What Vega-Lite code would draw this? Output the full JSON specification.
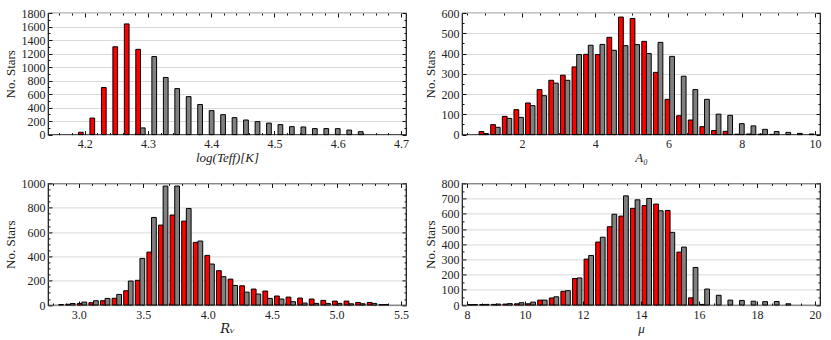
{
"$schema":"https://vega.github.io/schema/vega-lite/v6.json",
"padding":{"left":3,"top":6,"right":2,"bottom":2},
"config":{
 "font":"Liberation Serif",
 "view":{"stroke":"#111","strokeWidth":1.2},
 "axis":{"labelFont":"Liberation Serif","labelFontSize":12,"labelColor":"#222","titleFont":"Liberation Serif","titleFontSize":13,"titleFontWeight":"normal","titleColor":"#222","domain":false,"grid":false,"tickColor":"#111","tickWidth":1,"gridColor":"#d9d9d9","gridWidth":1,"labelFlush":false,"labelOverlap":false}
},
"datasets":{
 "teff":[
  {"s":"red","x":4.1940,"n":35},{"s":"red","x":4.2121,"n":245},{"s":"red","x":4.2303,"n":697},{"s":"red","x":4.2484,"n":1300},{"s":"red","x":4.2665,"n":1638},{"s":"red","x":4.2846,"n":1262},
  {"s":"gray","x":4.2919,"n":99},{"s":"gray","x":4.3100,"n":1155},{"s":"gray","x":4.3282,"n":846},{"s":"gray","x":4.3463,"n":681},{"s":"gray","x":4.3644,"n":562},{"s":"gray","x":4.3825,"n":446},{"s":"gray","x":4.4007,"n":355},{"s":"gray","x":4.4188,"n":295},{"s":"gray","x":4.4369,"n":251},{"s":"gray","x":4.4550,"n":216},{"s":"gray","x":4.4732,"n":192},{"s":"gray","x":4.4913,"n":170},{"s":"gray","x":4.5094,"n":148},{"s":"gray","x":4.5275,"n":118},{"s":"gray","x":4.5457,"n":113},{"s":"gray","x":4.5638,"n":89},{"s":"gray","x":4.5819,"n":89},{"s":"gray","x":4.6000,"n":88},{"s":"gray","x":4.6182,"n":67},{"s":"gray","x":4.6363,"n":43}
 ],
 "a0":[
  {"s":"red","x":0.895,"n":15},{"s":"red","x":1.212,"n":49},{"s":"red","x":1.530,"n":90},{"s":"red","x":1.847,"n":123},{"s":"red","x":2.164,"n":156},{"s":"red","x":2.481,"n":222},{"s":"red","x":2.799,"n":268},{"s":"red","x":3.116,"n":293},{"s":"red","x":3.433,"n":334},{"s":"red","x":3.750,"n":396},{"s":"red","x":4.068,"n":395},{"s":"red","x":4.385,"n":480},{"s":"red","x":4.702,"n":580},{"s":"red","x":5.019,"n":573},{"s":"red","x":5.337,"n":460},{"s":"red","x":5.654,"n":307},{"s":"red","x":5.971,"n":174},{"s":"red","x":6.288,"n":93},{"s":"red","x":6.606,"n":72},{"s":"red","x":6.923,"n":39},{"s":"red","x":7.240,"n":20},{"s":"red","x":7.557,"n":16},{"s":"red","x":7.875,"n":2},{"s":"red","x":8.192,"n":3},{"s":"red","x":8.509,"n":2},{"s":"red","x":8.826,"n":1},
  {"s":"gray","x":1.022,"n":5},{"s":"gray","x":1.339,"n":36},{"s":"gray","x":1.657,"n":80},{"s":"gray","x":1.974,"n":85},{"s":"gray","x":2.291,"n":143},{"s":"gray","x":2.608,"n":192},{"s":"gray","x":2.926,"n":254},{"s":"gray","x":3.243,"n":268},{"s":"gray","x":3.560,"n":395},{"s":"gray","x":3.877,"n":441},{"s":"gray","x":4.195,"n":445},{"s":"gray","x":4.512,"n":416},{"s":"gray","x":4.829,"n":439},{"s":"gray","x":5.146,"n":444},{"s":"gray","x":5.464,"n":400},{"s":"gray","x":5.781,"n":455},{"s":"gray","x":6.098,"n":386},{"s":"gray","x":6.415,"n":288},{"s":"gray","x":6.733,"n":222},{"s":"gray","x":7.050,"n":174},{"s":"gray","x":7.367,"n":101},{"s":"gray","x":7.684,"n":95},{"s":"gray","x":8.002,"n":54},{"s":"gray","x":8.319,"n":43},{"s":"gray","x":8.636,"n":26},{"s":"gray","x":8.953,"n":15},{"s":"gray","x":9.270,"n":11},{"s":"gray","x":9.588,"n":6},{"s":"gray","x":9.905,"n":3}
 ],
 "rv":[
  {"s":"red","x":2.917,"n":6},{"s":"red","x":3.007,"n":13},{"s":"red","x":3.097,"n":19},{"s":"red","x":3.187,"n":35},{"s":"red","x":3.277,"n":55},{"s":"red","x":3.367,"n":117},{"s":"red","x":3.457,"n":203},{"s":"red","x":3.547,"n":435},{"s":"red","x":3.637,"n":657},{"s":"red","x":3.727,"n":740},{"s":"red","x":3.817,"n":690},{"s":"red","x":3.907,"n":515},{"s":"red","x":3.997,"n":408},{"s":"red","x":4.087,"n":282},{"s":"red","x":4.177,"n":213},{"s":"red","x":4.267,"n":158},{"s":"red","x":4.357,"n":131},{"s":"red","x":4.447,"n":115},{"s":"red","x":4.537,"n":74},{"s":"red","x":4.627,"n":65},{"s":"red","x":4.717,"n":57},{"s":"red","x":4.807,"n":49},{"s":"red","x":4.897,"n":38},{"s":"red","x":4.987,"n":32},{"s":"red","x":5.077,"n":32},{"s":"red","x":5.167,"n":21},{"s":"red","x":5.257,"n":21},{"s":"red","x":5.347,"n":3},
  {"s":"gray","x":2.863,"n":4},{"s":"gray","x":2.953,"n":12},{"s":"gray","x":3.043,"n":24},{"s":"gray","x":3.133,"n":35},{"s":"gray","x":3.223,"n":54},{"s":"gray","x":3.313,"n":87},{"s":"gray","x":3.403,"n":197},{"s":"gray","x":3.493,"n":383},{"s":"gray","x":3.583,"n":720},{"s":"gray","x":3.673,"n":978},{"s":"gray","x":3.763,"n":978},{"s":"gray","x":3.853,"n":794},{"s":"gray","x":3.943,"n":526},{"s":"gray","x":4.033,"n":337},{"s":"gray","x":4.123,"n":233},{"s":"gray","x":4.213,"n":161},{"s":"gray","x":4.303,"n":106},{"s":"gray","x":4.393,"n":90},{"s":"gray","x":4.483,"n":54},{"s":"gray","x":4.573,"n":49},{"s":"gray","x":4.663,"n":27},{"s":"gray","x":4.753,"n":16},{"s":"gray","x":4.843,"n":13},{"s":"gray","x":4.933,"n":13},{"s":"gray","x":5.023,"n":13},{"s":"gray","x":5.113,"n":10},{"s":"gray","x":5.203,"n":10},{"s":"gray","x":5.293,"n":13},{"s":"gray","x":5.383,"n":4}
 ],
 "mu":[
  {"s":"red","x":8.12,"n":2},{"s":"red","x":8.52,"n":3},{"s":"red","x":8.92,"n":4},{"s":"red","x":9.32,"n":6},{"s":"red","x":9.72,"n":8},{"s":"red","x":10.12,"n":8},{"s":"red","x":10.52,"n":32},{"s":"red","x":10.92,"n":46},{"s":"red","x":11.32,"n":90},{"s":"red","x":11.72,"n":174},{"s":"red","x":12.12,"n":302},{"s":"red","x":12.52,"n":414},{"s":"red","x":12.92,"n":515},{"s":"red","x":13.32,"n":585},{"s":"red","x":13.72,"n":636},{"s":"red","x":14.12,"n":654},{"s":"red","x":14.52,"n":664},{"s":"red","x":14.92,"n":622},{"s":"red","x":15.32,"n":348},{"s":"red","x":15.72,"n":47},{"s":"red","x":16.12,"n":4},
  {"s":"gray","x":8.28,"n":3},{"s":"gray","x":8.68,"n":4},{"s":"gray","x":9.08,"n":6},{"s":"gray","x":9.48,"n":9},{"s":"gray","x":9.88,"n":15},{"s":"gray","x":10.28,"n":19},{"s":"gray","x":10.68,"n":32},{"s":"gray","x":11.08,"n":54},{"s":"gray","x":11.48,"n":94},{"s":"gray","x":11.88,"n":178},{"s":"gray","x":12.28,"n":326},{"s":"gray","x":12.68,"n":446},{"s":"gray","x":13.08,"n":597},{"s":"gray","x":13.48,"n":718},{"s":"gray","x":13.88,"n":692},{"s":"gray","x":14.28,"n":701},{"s":"gray","x":14.68,"n":620},{"s":"gray","x":15.08,"n":478},{"s":"gray","x":15.48,"n":381},{"s":"gray","x":15.88,"n":247},{"s":"gray","x":16.28,"n":105},{"s":"gray","x":16.68,"n":64},{"s":"gray","x":17.08,"n":32},{"s":"gray","x":17.48,"n":30},{"s":"gray","x":17.88,"n":25},{"s":"gray","x":18.28,"n":22},{"s":"gray","x":18.68,"n":23},{"s":"gray","x":19.08,"n":8}
 ]
},
"columns":2,
"spacing":{"row":48.4,"column":56},
"bounds":"flush",
"concat":[
 {"width":358,"height":121.6,"data":{"name":"teff"},
  "layer":[
   {"mark":{"type":"bar","orient":"vertical","size":4.72,"stroke":"#000","strokeWidth":1},
    "encoding":{
     "x":{"field":"x","type":"quantitative","scale":{"domain":[4.15,4.7],"nice":false,"zero":false},"axis":{"orient":"bottom","values":[4.2,4.3,4.4,4.5,4.6,4.7],"format":".1f","ticks":false,"labelPadding":4,"title":"log(Teff)[K]","titleFontStyle":"italic","titlePadding":2}},
     "y":{"field":"n","type":"quantitative","stack":null,"scale":{"domain":[0,1800],"nice":false},"axis":{"orient":"left","values":[0,200,400,600,800,1000,1200,1400,1600,1800],"format":"d","ticks":false,"grid":true,"labelPadding":3,"title":"No. Stars","titlePadding":4}},
     "color":{"field":"s","type":"nominal","scale":{"domain":["red","gray"],"range":["#ff0000","#808080"]},"legend":null}}},
   {"mark":{"type":"point","opacity":0},"encoding":{
     "x":{"field":"x","type":"quantitative","axis":{"orient":"bottom","values":[4.2,4.3,4.4,4.5,4.6,4.7],"labels":false,"tickSize":-4,"title":null}},
     "y":{"field":"n","type":"quantitative","axis":{"orient":"left","values":[0,200,400,600,800,1000,1200,1400,1600,1800],"labels":false,"tickSize":-4,"title":null}}}},
   {"mark":{"type":"point","opacity":0},"encoding":{
     "x":{"field":"x","type":"quantitative","axis":{"orient":"top","values":[4.2,4.3,4.4,4.5,4.6,4.7],"labels":false,"tickSize":-4,"title":null}},
     "y":{"field":"n","type":"quantitative","axis":{"orient":"right","values":[0,200,400,600,800,1000,1200,1400,1600,1800],"labels":false,"tickSize":-4,"title":null}}}},
   {"mark":{"type":"point","opacity":0},"encoding":{
     "x":{"field":"x","type":"quantitative","axis":{"orient":"bottom","values":[4.16,4.18,4.22,4.24,4.26,4.28,4.32,4.34,4.36,4.38,4.42,4.44,4.46,4.48,4.52,4.54,4.56,4.58,4.62,4.64,4.66,4.68],"labels":false,"tickSize":-2,"title":null}},
     "y":{"field":"n","type":"quantitative","axis":{"orient":"left","values":[100,300,500,700,900,1100,1300,1500,1700],"labels":false,"tickSize":-2,"title":null}}}},
   {"mark":{"type":"point","opacity":0},"encoding":{
     "x":{"field":"x","type":"quantitative","axis":{"orient":"top","values":[4.16,4.18,4.22,4.24,4.26,4.28,4.32,4.34,4.36,4.38,4.42,4.44,4.46,4.48,4.52,4.54,4.56,4.58,4.62,4.64,4.66,4.68],"labels":false,"tickSize":-2,"title":null}},
     "y":{"field":"n","type":"quantitative","axis":{"orient":"right","values":[100,300,500,700,900,1100,1300,1500,1700],"labels":false,"tickSize":-2,"title":null}}}}
  ],
  "resolve":{"axis":{"x":"independent","y":"independent"}}},
 {"width":358,"height":121.6,"data":{"name":"a0"},
  "layer":[
   {"mark":{"type":"bar","orient":"vertical","size":4.76,"stroke":"#000","strokeWidth":1},
    "encoding":{
     "x":{"field":"x","type":"quantitative","scale":{"domain":[0.5,10],"nice":false,"zero":false},"axis":{"orient":"bottom","values":[2,4,6,8,10],"ticks":false,"labelPadding":4,"title":"A₀","titleFontStyle":"italic","titlePadding":2}},
     "y":{"field":"n","type":"quantitative","stack":null,"scale":{"domain":[0,600],"nice":false},"axis":{"orient":"left","values":[0,100,200,300,400,500,600],"format":"d","ticks":false,"grid":true,"labelPadding":3,"title":"No. Stars","titlePadding":4}},
     "color":{"field":"s","type":"nominal","scale":{"domain":["red","gray"],"range":["#ff0000","#808080"]},"legend":null}}},
   {"mark":{"type":"point","opacity":0},"encoding":{
     "x":{"field":"x","type":"quantitative","axis":{"orient":"bottom","values":[2,4,6,8,10],"labels":false,"tickSize":-4,"title":null}},
     "y":{"field":"n","type":"quantitative","axis":{"orient":"left","values":[0,100,200,300,400,500,600],"labels":false,"tickSize":-4,"title":null}}}},
   {"mark":{"type":"point","opacity":0},"encoding":{
     "x":{"field":"x","type":"quantitative","axis":{"orient":"top","values":[2,4,6,8,10],"labels":false,"tickSize":-4,"title":null}},
     "y":{"field":"n","type":"quantitative","axis":{"orient":"right","values":[0,100,200,300,400,500,600],"labels":false,"tickSize":-4,"title":null}}}},
   {"mark":{"type":"point","opacity":0},"encoding":{
     "x":{"field":"x","type":"quantitative","axis":{"orient":"bottom","values":[0.5,1,1.5,2.5,3,3.5,4.5,5,5.5,6.5,7,7.5,8.5,9,9.5],"labels":false,"tickSize":-2,"title":null}},
     "y":{"field":"n","type":"quantitative","axis":{"orient":"left","values":[50,150,250,350,450,550],"labels":false,"tickSize":-2,"title":null}}}},
   {"mark":{"type":"point","opacity":0},"encoding":{
     "x":{"field":"x","type":"quantitative","axis":{"orient":"top","values":[0.5,1,1.5,2.5,3,3.5,4.5,5,5.5,6.5,7,7.5,8.5,9,9.5],"labels":false,"tickSize":-2,"title":null}},
     "y":{"field":"n","type":"quantitative","axis":{"orient":"right","values":[50,150,250,350,450,550],"labels":false,"tickSize":-2,"title":null}}}}
  ],
  "resolve":{"axis":{"x":"independent","y":"independent"}}},
 {"width":358,"height":121.6,"data":{"name":"rv"},
  "layer":[
   {"mark":{"type":"bar","orient":"vertical","size":4.77,"stroke":"#000","strokeWidth":1},
    "encoding":{
     "x":{"field":"x","type":"quantitative","scale":{"domain":[2.8,5.5],"nice":false,"zero":false},"axis":{"orient":"bottom","values":[3,3.5,4,4.5,5,5.5],"format":".1f","ticks":false,"labelPadding":4,"title":"Rᵥ","titleFont":"DejaVu Serif","titleFontSize":13,"titleFontStyle":"italic","titlePadding":2}},
     "y":{"field":"n","type":"quantitative","stack":null,"scale":{"domain":[0,1000],"nice":false},"axis":{"orient":"left","values":[0,200,400,600,800,1000],"format":"d","ticks":false,"grid":true,"labelPadding":3,"title":"No. Stars","titlePadding":4}},
     "color":{"field":"s","type":"nominal","scale":{"domain":["red","gray"],"range":["#ff0000","#808080"]},"legend":null}}},
   {"mark":{"type":"point","opacity":0},"encoding":{
     "x":{"field":"x","type":"quantitative","axis":{"orient":"bottom","values":[3,3.5,4,4.5,5,5.5],"labels":false,"tickSize":-4,"title":null}},
     "y":{"field":"n","type":"quantitative","axis":{"orient":"left","values":[0,200,400,600,800,1000],"labels":false,"tickSize":-4,"title":null}}}},
   {"mark":{"type":"point","opacity":0},"encoding":{
     "x":{"field":"x","type":"quantitative","axis":{"orient":"top","values":[3,3.5,4,4.5,5,5.5],"labels":false,"tickSize":-4,"title":null}},
     "y":{"field":"n","type":"quantitative","axis":{"orient":"right","values":[0,200,400,600,800,1000],"labels":false,"tickSize":-4,"title":null}}}},
   {"mark":{"type":"point","opacity":0},"encoding":{
     "x":{"field":"x","type":"quantitative","axis":{"orient":"bottom","values":[2.8,2.9,3.1,3.2,3.3,3.4,3.6,3.7,3.8,3.9,4.1,4.2,4.3,4.4,4.6,4.7,4.8,4.9,5.1,5.2,5.3,5.4],"labels":false,"tickSize":-2,"title":null}},
     "y":{"field":"n","type":"quantitative","axis":{"orient":"left","values":[50,100,150,250,300,350,450,500,550,650,700,750,850,900,950],"labels":false,"tickSize":-2,"title":null}}}},
   {"mark":{"type":"point","opacity":0},"encoding":{
     "x":{"field":"x","type":"quantitative","axis":{"orient":"top","values":[2.8,2.9,3.1,3.2,3.3,3.4,3.6,3.7,3.8,3.9,4.1,4.2,4.3,4.4,4.6,4.7,4.8,4.9,5.1,5.2,5.3,5.4],"labels":false,"tickSize":-2,"title":null}},
     "y":{"field":"n","type":"quantitative","axis":{"orient":"right","values":[50,100,150,250,300,350,450,500,550,650,700,750,850,900,950],"labels":false,"tickSize":-2,"title":null}}}}
  ],
  "resolve":{"axis":{"x":"independent","y":"independent"}}},
 {"width":358,"height":121.6,"data":{"name":"mu"},
  "layer":[
   {"mark":{"type":"bar","orient":"vertical","size":4.76,"stroke":"#000","strokeWidth":1},
    "encoding":{
     "x":{"field":"x","type":"quantitative","scale":{"domain":[8,20],"nice":false,"zero":false},"axis":{"orient":"bottom","values":[8,10,12,14,16,18,20],"ticks":false,"labelPadding":4,"title":"μ","titleFontStyle":"italic","titlePadding":2}},
     "y":{"field":"n","type":"quantitative","stack":null,"scale":{"domain":[0,800],"nice":false},"axis":{"orient":"left","values":[0,100,200,300,400,500,600,700,800],"format":"d","ticks":false,"grid":true,"labelPadding":3,"title":"No. Stars","titlePadding":4}},
     "color":{"field":"s","type":"nominal","scale":{"domain":["red","gray"],"range":["#ff0000","#808080"]},"legend":null}}},
   {"mark":{"type":"point","opacity":0},"encoding":{
     "x":{"field":"x","type":"quantitative","axis":{"orient":"bottom","values":[8,10,12,14,16,18,20],"labels":false,"tickSize":-4,"title":null}},
     "y":{"field":"n","type":"quantitative","axis":{"orient":"left","values":[0,100,200,300,400,500,600,700,800],"labels":false,"tickSize":-4,"title":null}}}},
   {"mark":{"type":"point","opacity":0},"encoding":{
     "x":{"field":"x","type":"quantitative","axis":{"orient":"top","values":[8,10,12,14,16,18,20],"labels":false,"tickSize":-4,"title":null}},
     "y":{"field":"n","type":"quantitative","axis":{"orient":"right","values":[0,100,200,300,400,500,600,700,800],"labels":false,"tickSize":-4,"title":null}}}},
   {"mark":{"type":"point","opacity":0},"encoding":{
     "x":{"field":"x","type":"quantitative","axis":{"orient":"bottom","values":[8.5,9,9.5,10.5,11,11.5,12.5,13,13.5,14.5,15,15.5,16.5,17,17.5,18.5,19,19.5],"labels":false,"tickSize":-2,"title":null}},
     "y":{"field":"n","type":"quantitative","axis":{"orient":"left","values":[50,150,250,350,450,550,650,750],"labels":false,"tickSize":-2,"title":null}}}},
   {"mark":{"type":"point","opacity":0},"encoding":{
     "x":{"field":"x","type":"quantitative","axis":{"orient":"top","values":[8.5,9,9.5,10.5,11,11.5,12.5,13,13.5,14.5,15,15.5,16.5,17,17.5,18.5,19,19.5],"labels":false,"tickSize":-2,"title":null}},
     "y":{"field":"n","type":"quantitative","axis":{"orient":"right","values":[50,150,250,350,450,550,650,750],"labels":false,"tickSize":-2,"title":null}}}}
  ],
  "resolve":{"axis":{"x":"independent","y":"independent"}}}
]
}
